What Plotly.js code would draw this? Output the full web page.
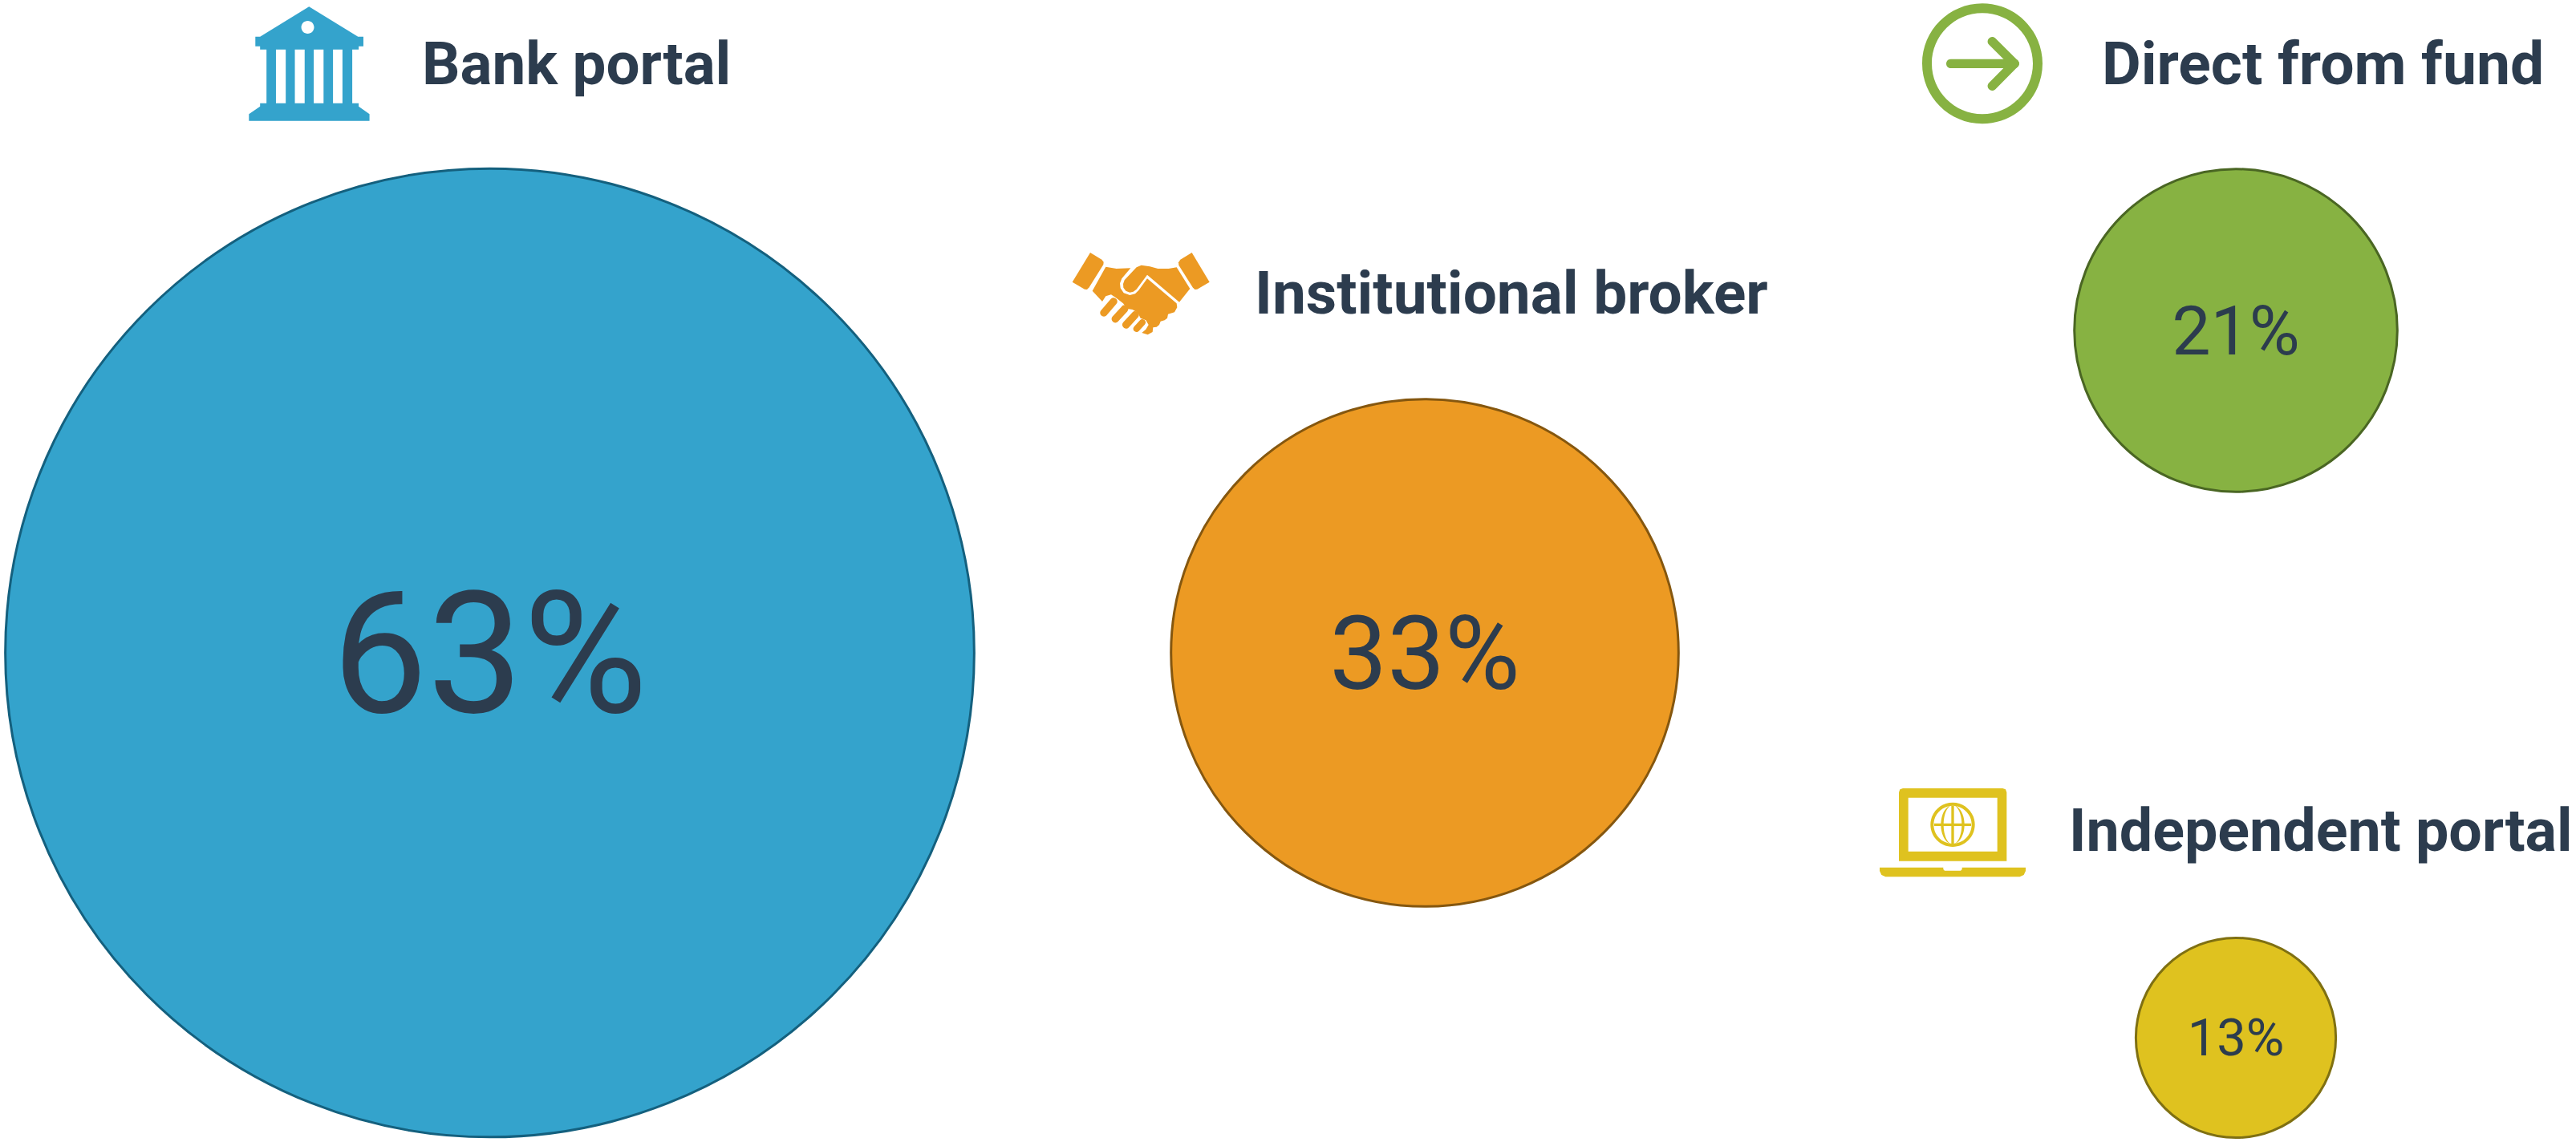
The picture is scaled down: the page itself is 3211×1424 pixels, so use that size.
<!DOCTYPE html>
<html>
<head>
<meta charset="utf-8">
<script src="https://cdn.plot.ly/plotly-3.0.1.min.js"></script>
<style>html,body{margin:0;padding:0;background:#fff;overflow:hidden}#chart{width:3211px;height:1424px}</style>
</head>
<body>
<div id="chart"></div>
<script>
const categories = ["Bank portal", "Institutional broker", "Direct from fund", "Independent portal"];
const shares = [63, 33, 21, 13];

const centerX = [610.5, 1776, 2787, 2787];
const centerY = [814, 814, 412, 1294];
const fillColors = ["#34a3cc", "#ec9a23", "#87b242", "#dfc21f"];
const edgeColors = ["#14607e", "#85570f", "#4a6623", "#7f7012"];
const labelSizes = [212, 128, 86, 65];
const labelShift = [21, 13, 8, 6];
const headX = [524, 1562, 2618, 2577];
const headY = [79, 365, 79, 1036];
const headSizes = [74.5, 74.8, 75, 73.6];
const ink = "#2c3c4e";
const pxPerPoint = 19.17;

function mapper(ox, oy, kx, ky) { return (x, y) => (ox + x / kx).toFixed(2) + "," + (oy + y / (ky || kx)).toFixed(2); }
function poly(m, pts) { return "M" + pts.map(p => m(p[0], p[1])).join("L") + "Z"; }
function ell(m, cx, cy, rx, ry) {
  const c = 0.5523;
  return "M" + m(cx - rx, cy) +
    "C" + m(cx - rx, cy - c * ry) + " " + m(cx - c * rx, cy - ry) + " " + m(cx, cy - ry) +
    "C" + m(cx + c * rx, cy - ry) + " " + m(cx + rx, cy - c * ry) + " " + m(cx + rx, cy) +
    "C" + m(cx + rx, cy + c * ry) + " " + m(cx + c * rx, cy + ry) + " " + m(cx, cy + ry) +
    "C" + m(cx - c * rx, cy + ry) + " " + m(cx - rx, cy + c * ry) + " " + m(cx - rx, cy) + "Z";
}
function capsule(m, x1, y1, x2, y2, w) {
  const d = Math.hypot(x2 - x1, y2 - y1), r = w / 2;
  const ux = (x2 - x1) / d, uy = (y2 - y1) / d, nx = -uy * r, ny = ux * r, e = 1.33 * r;
  return "M" + m(x1 + nx, y1 + ny) + "L" + m(x2 + nx, y2 + ny) +
    "C" + m(x2 + nx + ux * e, y2 + ny + uy * e) + " " + m(x2 - nx + ux * e, y2 - ny + uy * e) + " " + m(x2 - nx, y2 - ny) +
    "L" + m(x1 - nx, y1 - ny) +
    "C" + m(x1 - nx - ux * e, y1 - ny - uy * e) + " " + m(x1 + nx - ux * e, y1 + ny - uy * e) + " " + m(x1 + nx, y1 + ny) + "Z";
}
function shape(path, color) {
  return { type: "path", xref: "x", yref: "y", path: path, fillcolor: color, fillrule: "evenodd", line: { width: 0 }, layer: "above" };
}

const shapes = [];

// bank icon
{
  const m = mapper(280, 0, 2.376, 3);
  let p = poly(m, [[250,25],[395,137],[411,137],[411,173],[397,173],[397,185],[378,185],[378,386],[397,386],[397,398],[429,427],[429,452],[72,452],[72,427],[105,398],[105,386],[124,386],[124,185],[105,185],[105,173],[91,173],[91,137],[105,137]]);
  [[152,181],[208,237],[264,293],[321,349]].forEach(w => { p += poly(m, [[w[0],185],[w[1],185],[w[1],386],[w[0],386]]); });
  p += ell(m, 246, 102, 19, 24);
  shapes.push(shape(p, fillColors[0]));
}

// handshake icon
{
  const m = mapper(1310, 290, 3), c = fillColors[1];
  shapes.push(shape(poly(m, [[147,75],[190,101],[197,110],[196,120],[143,205],[135,213],[126,212],[80,185]]), c));
  shapes.push(shape(poly(m, [[527,75],[593,185],[547,212],[538,213],[530,205],[478,122],[477,112],[484,101]]), c));
  shapes.push(shape(poly(m, [[338,122],[370,127],[400,135],[440,135],[470,130],[520,210],[480,260],[360,158],[320,212],[308,221],[295,224],[280,218],[271,206],[270,192],[275,178],[320,130]]), c));
  shapes.push(shape(poly(m, [[205,128],[245,135],[298,133],[265,172],[258,190],[260,208],[272,226],[295,234],[315,229],[328,216],[360,172],[470,265],[472,280],[462,298],[438,305],[435,320],[425,328],[410,332],[405,345],[395,353],[382,355],[380,372],[362,382],[340,375],[355,362],[365,345],[355,328],[335,320],[325,300],[305,288],[285,285],[270,265],[245,245],[225,232],[205,238],[192,258],[155,218]]), c));
  shapes.push(shape(capsule(m, 198, 300, 234, 258, 28), c));
  shapes.push(shape(capsule(m, 241, 323, 275, 286, 28), c));
  shapes.push(shape(capsule(m, 281, 345, 315, 308, 28), c));
  shapes.push(shape(capsule(m, 320, 360, 342, 336, 24), c));
}

// arrow icon
{
  const m = mapper(2370, 0, 3), c = fillColors[2];
  shapes.push(shape(ell(m, 303, 238, 225, 225) + ell(m, 303, 238, 189, 189), c));
  shapes.push(shape(capsule(m, 185, 238, 423, 238, 34), c));
  shapes.push(shape(capsule(m, 340, 155, 423, 238, 34), c));
  shapes.push(shape(capsule(m, 340, 322, 423, 238, 34), c));
}

// laptop icon
{
  const m = mapper(2320, 960, 3), c = fillColors[3];
  shapes.push(shape(poly(m, [[156,69],[529,69],[540,73],[544,84],[544,341],[141,341],[141,84],[145,73]]) + poly(m, [[176,104],[509,104],[509,305],[176,305]]), c));
  shapes.push(shape(poly(m, [[69,365],[307,365],[307,372],[312,377],[372,377],[377,372],[377,365],[615,365],[615,378],[608,393],[593,400],[91,400],[76,393],[69,378]]), c));
  shapes.push(shape(ell(m, 342, 205, 83, 83) + ell(m, 342, 205, 71, 71), c));
  shapes.push(shape(ell(m, 342, 205, 44, 73) + ell(m, 342, 205, 34, 73), c));
  shapes.push(shape(poly(m, [[337,134],[347,134],[347,276],[337,276]]), c));
  shapes.push(shape(poly(m, [[273,200],[411,200],[411,210],[273,210]]), c));
}

const bubbles = {
  type: "scatter",
  mode: "markers",
  x: centerX,
  y: centerY,
  marker: {
    size: shares,
    sizemode: "diameter",
    sizeref: 1 / pxPerPoint,
    color: fillColors,
    opacity: 1,
    line: { color: edgeColors, width: 3 }
  },
  hoverinfo: "skip",
  showlegend: false
};

const labels = {
  type: "scatter",
  mode: "text",
  x: centerX,
  y: centerY.map((v, i) => v + labelShift[i]),
  text: shares.map(v => v + "%"),
  textposition: "middle center",
  textfont: { family: "Roboto, sans-serif", size: labelSizes, color: ink },
  hoverinfo: "skip",
  showlegend: false
};

const layout = {
  width: 3211,
  height: 1424,
  margin: { l: 0, r: 0, t: 0, b: 0, pad: 0 },
  paper_bgcolor: "#ffffff",
  plot_bgcolor: "#ffffff",
  showlegend: false,
  xaxis: { range: [0, 3211], visible: false, fixedrange: true },
  yaxis: { range: [1424, 0], visible: false, fixedrange: true },
  shapes: shapes,
  annotations: categories.map((c, i) => ({
    text: "<b>" + c + "</b>",
    x: headX[i], y: headY[i], xref: "x", yref: "y",
    xanchor: "left", yanchor: "middle",
    showarrow: false,
    font: { family: "Roboto, sans-serif", size: headSizes[i], color: ink }
  }))
};

Plotly.newPlot("chart", [bubbles, labels], layout, { staticPlot: true, displayModeBar: false });
</script>
</body>
</html>
